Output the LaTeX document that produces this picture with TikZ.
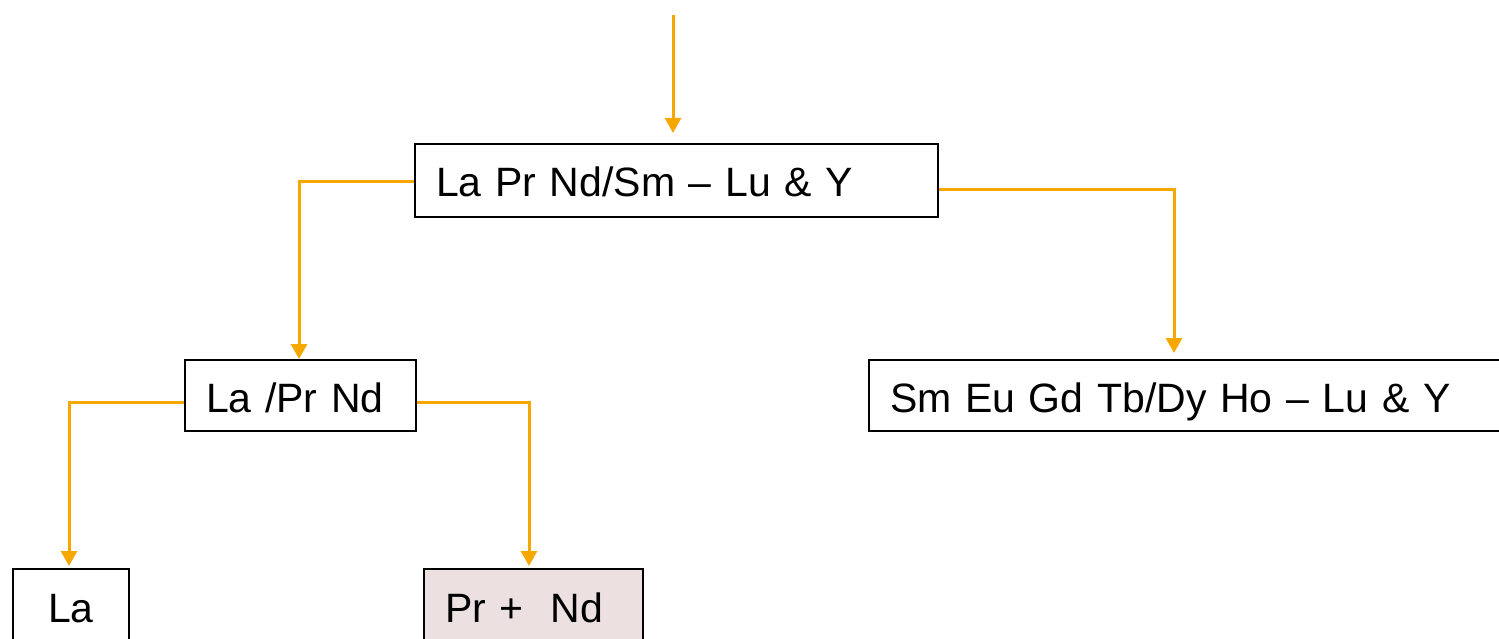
\documentclass[tikz,border=0pt]{standalone}
\usepackage{fontspec}
\setmainfont{Liberation Sans}
\usetikzlibrary{arrows.meta}
\definecolor{flowc}{RGB}{247,168,0}
\definecolor{boxfill}{RGB}{236,225,224}
\tikzset{
  stagebox/.style={draw=black, line width=2pt, anchor=north west, inner xsep=21pt, inner ysep=0pt,
    text height=53pt, text depth=20pt, align=left, font=\fontsize{41}{47}\selectfont},
  flow/.style={draw=flowc, line width=3pt,
    -{Triangle[width=16pt,length=15pt]}}
}
\begin{document}
\begin{tikzpicture}[x=1pt,y=-1pt]
  \useasboundingbox (0,0) rectangle (1499,639);
  \clip (0,0) rectangle (1499,639);

  % separation stages
  \node[stagebox, text width=481pt] (top) at (414,143) {La Pr Nd/Sm -- Lu \& Y};
  \node[stagebox, text width=189pt, text height=52pt, text depth=19pt] (mid) at (184,359) {La /Pr Nd};
  \node[stagebox, text width=658pt, text height=52pt, text depth=19pt] (heavy) at (868,359) {Sm Eu Gd Tb/Dy Ho -- Lu \& Y};
  \node[stagebox, text width=74pt, align=center, text depth=40pt] (la) at (12,568) {La};
  \node[stagebox, fill=boxfill, text width=177pt, text depth=40pt] (prnd) at (423,568) {Pr +\ \ Nd};

  % feed
  \coordinate (feed) at (673,15);
  \draw[flow, shorten >=10pt] (feed) -- (feed |- top.north);

  % splits
  \draw[flow] ([yshift=-1pt]top.west) -| ([xshift=115pt]mid.north west);
  \draw[flow, shorten >=6pt] ([yshift=-9pt]top.east) -| ([xshift=306pt]heavy.north west);
  \draw[flow, shorten >=2pt] ([yshift=-6.5pt]mid.west) -| ([xshift=57pt]la.north west);
  \draw[flow, shorten >=2pt] ([yshift=-6.5pt]mid.east) -| ([xshift=106pt]prnd.north west);
\end{tikzpicture}
\end{document}
